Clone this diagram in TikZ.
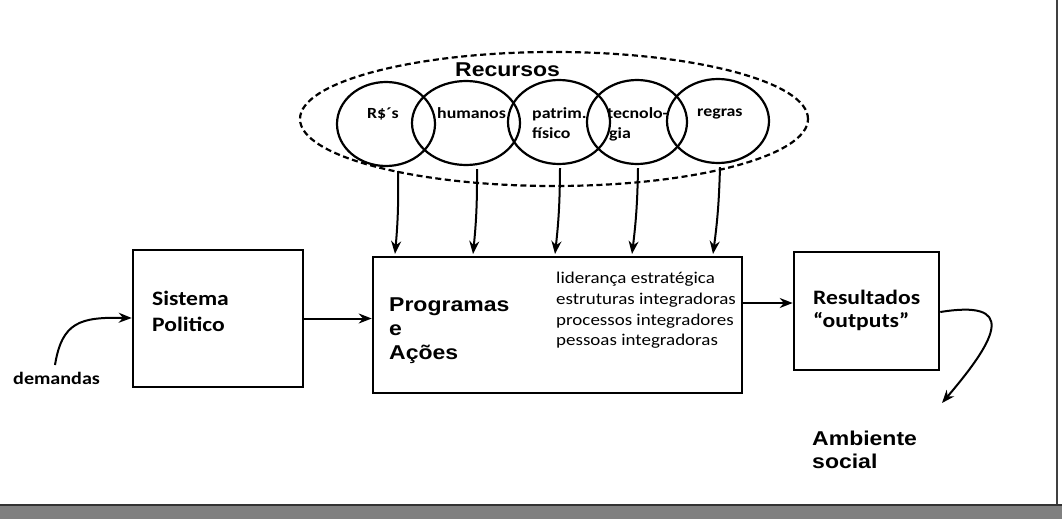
\documentclass[tikz,border=0pt]{standalone}
\usepackage{fontspec}
\usetikzlibrary{shapes.geometric,arrows.meta,calc}
\newfontfamily\calfont{Carlito}[FakeStretch=1.15]
\newfontfamily\arfont{Liberation Sans}[FakeStretch=1.15]
\begin{document}
\begin{tikzpicture}[x=1pt,y=-1pt,
  box/.style={draw, line width=2.6pt, inner sep=0pt, rectangle},
  resring/.style={draw, ellipse, line width=2.2pt, inner sep=0pt},
  arr/.style={line width=2pt, -{Stealth[length=13pt,width=10pt]}},
  txt/.style={inner sep=0pt, anchor=base west},
  ringtxt/.style={txt, font=\calfont\bfseries\fontsize{15.5}{18}\selectfont},
  listtxt/.style={txt, font=\calfont\fontsize{16.5}{19}\selectfont},
  calbold/.style={txt, font=\calfont\bfseries\fontsize{20.5}{24}\selectfont},
  arbold/.style={txt, font=\arfont\bfseries\fontsize{20}{24}\selectfont}]
\useasboundingbox (0,0) rectangle (1062,519);
\fill[white] (0,0) rectangle (1062,519);
% scan artefacts: right edge and bottom band
\draw[line width=2.2pt, black!75] (1057,0) -- (1057,505);
\fill[black!50] (0,505) rectangle (1062,519);
\draw[line width=1.8pt, black!80] (0,505) -- (1062,505);

% resources
\node[draw, ellipse, dashed, dash pattern=on 6pt off 3.5pt, line width=2.2pt,
      minimum width=508pt, minimum height=134pt, inner sep=0pt] (rec) at (554,119) {};
\node[arbold] (rectxt) at (455,77) {Recursos};
\node[resring, minimum width=98pt, minimum height=84pt] (c1) at (386,124) {};
\node[resring, minimum width=108pt, minimum height=84pt] (c2) at (466,123) {};
\node[resring, minimum width=102pt, minimum height=84pt] (c3) at (559,122) {};
\node[resring, minimum width=100pt, minimum height=84pt] (c4) at (637,122) {};
\node[resring, minimum width=102pt, minimum height=84pt] (c5) at (718,121) {};
\node[ringtxt] (t1) at (367,118) {R\$´s};
\node[ringtxt] (t2) at (437,118) {humanos};
\node[ringtxt] (t3a) at (532,118) {patrim.};
\node[ringtxt] (t3b) at (532,138) {físico};
\node[ringtxt] (t4a) at (607,118) {tecnolo-};
\node[ringtxt] (t4b) at (609,138) {gia};
\node[ringtxt] (t5) at (697,116) {regras};

% boxes
\node[box, minimum width=170pt, minimum height=137pt] (sis) at (218,318.5) {};
\node[box, minimum width=369pt, minimum height=136pt] (prog) at (557.5,325) {};
\node[box, minimum width=145pt, minimum height=118pt] (res) at (866.5,311) {};

\node[calbold] (s1) at (152,305) {Sistema};
\node[calbold] (s2) at (152,331) {Politico};
\node[arbold] (p1) at (389,311) {Programas};
\node[arbold] (p2) at (389,335) {e};
\node[arbold] (p3) at (389,359) {Ações};
\node[listtxt] (l1) at (556,283) {liderança estratégica};
\node[listtxt] (l2) at (556,304) {estruturas integradoras};
\node[listtxt] (l3) at (556,325) {processos integradores};
\node[listtxt] (l4) at (556,345) {pessoas integradoras};
\node[calbold] (r1) at (813,304) {Resultados};
\node[calbold] (r2) at (813,327) {“outputs”};
\node[arbold] (a1) at (812,445) {Ambiente};
\node[arbold] (a2) at (812,468) {social};
\node[txt, font=\calfont\bfseries\fontsize{17.5}{20}\selectfont] (dem) at (13,384) {demandas};

% arrows from resources
\coordinate (in1) at (395,254);
\coordinate (in2) at (473,254);
\coordinate (in3) at (555,254);
\coordinate (in4) at (632,254);
\coordinate (in5) at (713,254);
\draw[arr] ([xshift=12pt,yshift=-4pt]c1.south) to[bend left=3] (in1);
\draw[arr] ([xshift=11pt,yshift=-3pt]c2.south) to[bend left=3] (in2);
\draw[arr] ([xshift=1pt,yshift=-3pt]c3.south) to[bend left=3] (in3);
\draw[arr] ([xshift=1pt,yshift=-3pt]c4.south) to[bend left=3] (in4);
\draw[arr] ([xshift=2pt,yshift=-3pt]c5.south) to[bend left=3] (in5);

% flow
\coordinate (demstart) at (55,365);
\draw[arr] (demstart) .. controls (62,322) and (80,317) .. ([yshift=0.5pt]sis.west);
\draw[arr] (sis.east) -- (sis.east -| prog.west);
\draw[arr] ([yshift=8pt]res.west -| prog.east) -- ([yshift=8pt]res.west);
\coordinate (ambtip) at (942,403);
\draw[arr] ([yshift=-1pt]res.east) .. controls (1015,300) and (1000,335) .. (ambtip);
\end{tikzpicture}
\end{document}
